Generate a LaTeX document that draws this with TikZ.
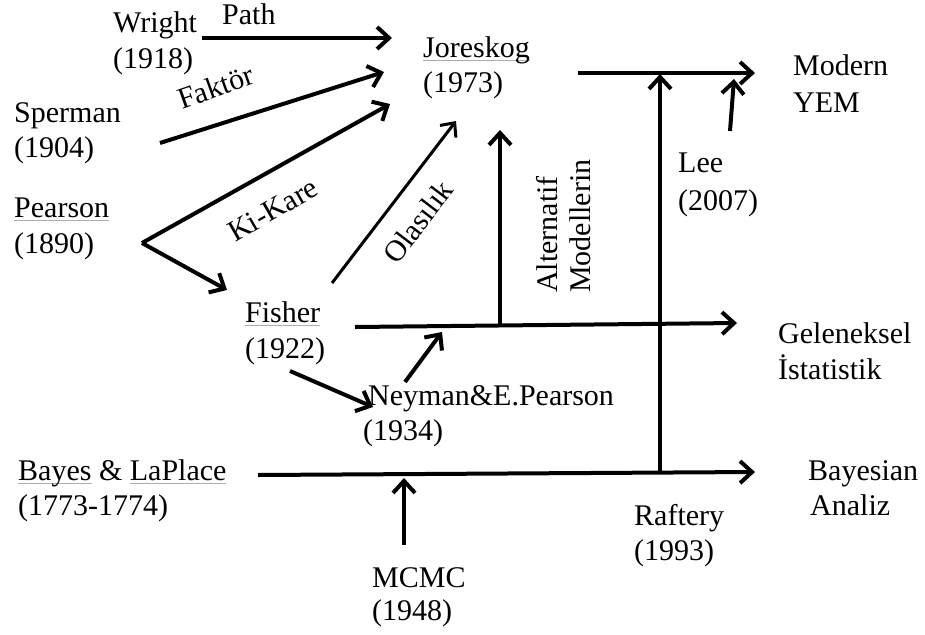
\documentclass[tikz,border=0pt]{standalone}
\usepackage{fontspec}
\setmainfont{Liberation Serif}
\usetikzlibrary{arrows.meta}
\newcommand\myul[1]{\setbox0\hbox{#1}\rlap{\textcolor{gray!65}{\rule[-4pt]{\wd0}{1.2pt}}}\box0\relax}
\begin{document}
\begin{tikzpicture}[x=1pt,y=-1pt,
  lbl/.style={anchor=base west, inner sep=0pt, font=\fontsize{30}{35}\selectfont},
  arr/.style={line width=4pt, -{Straight Barb[length=12pt,width=22pt]}},
  thinarr/.style={line width=3pt, -{Straight Barb[length=11pt,width=20pt]}}]
\path[use as bounding box, fill=white] (0,0) rectangle (925,634);

% labels
\node[lbl] (wright) at (113,33) {Wright};
\node[lbl] (wrightyr) at (113,68) {(1918)};
\node[lbl] (path) at (222,25) {Path};
\node[lbl] (jor) at (423,57) {\myul{Joreskog}};
\node[lbl] (joryr) at (423,92) {(1973)};
\node[lbl] (sper) at (14,122) {Sperman};
\node[lbl] (speryr) at (14,157) {(1904)};
\node[lbl] (pear) at (14,217) {\myul{Pearson}};
\node[lbl] (pearyr) at (14,253) {(1890)};
\node[lbl] (fish) at (245,322) {\myul{Fisher}};
\node[lbl] (fishyr) at (245,358) {(1922)};
\node[lbl] (ney) at (368,405) {Neyman\&E.Pearson};
\node[lbl] (neyyr) at (363,440) {(1934)};
\node[lbl] (bayes) at (18,480) {\myul{Bayes} \& \myul{LaPlace}};
\node[lbl] (bayesyr) at (18,515) {(1773-1774)};
\node[lbl] (mcmc) at (372,587) {MCMC};
\node[lbl] (mcmcyr) at (372,620) {(1948)};
\node[lbl] (gel) at (778,343) {Geleneksel};
\node[lbl] (ist) at (778,379) {İstatistik};
\node[lbl] (bay) at (808,480) {Bayesian};
\node[lbl] (anal) at (810,515) {Analiz};
\node[lbl] (raf) at (634,525) {Raftery};
\node[lbl] (rafyr) at (634,560) {(1993)};
\node[lbl] (mod) at (793,75) {Modern};
\node[lbl] (yem) at (793,112) {YEM};
\node[lbl] (lee) at (678,172) {Lee};
\node[lbl] (leeyr) at (678,210) {(2007)};
\node[lbl, rotate=19.7] (fak) at (182,110) {Faktör};
\node[lbl, rotate=30] (ki) at (235,243) {Ki-Kare};
\node[lbl, rotate=52.6] (ola) at (397,266) {Olasılık};
\node[lbl, rotate=90] (alt) at (557,293) {Alternatif};
\node[lbl, rotate=90] (modl) at (590,293) {Modellerin};

% connector end points
\coordinate (pathS) at (202,38);  \coordinate (pathE) at (392,38);
\coordinate (fakS) at (160,143);  \coordinate (fakE) at (384,72);
\coordinate (pS) at (142,243);    \coordinate (kiE) at (390,104);
\coordinate (fiE) at (227,290);
\coordinate (olS) at (332,283);   \coordinate (olE) at (456,121);
\coordinate (fhS) at (355,327);   \coordinate (fhE) at (737,323);
\coordinate (altS) at (500,326);  \coordinate (altE) at (500,130);
\coordinate (fnS) at (290,371);   \coordinate (fnE) at (373,407);
\coordinate (nuS) at (405,382);   \coordinate (nuE) at (442,332);
\coordinate (bhS) at (258,475);   \coordinate (bhE) at (755,472);
\coordinate (mcS) at (404,545);   \coordinate (mcE) at (404,478);
\coordinate (rfS) at (660,473);   \coordinate (rfE) at (660,74);
\coordinate (jmS) at (578,73);    \coordinate (jmE) at (755,73);
\coordinate (leS) at (730,131);   \coordinate (leE) at (734,79);

% connectors
\draw[arr] (pathS) -- (pathE);
\draw[arr] (fakS) -- (fakE);
\draw[arr] (pS) -- (kiE);
\draw[arr] (pS) -- (fiE);
\draw[thinarr] (olS) -- (olE);
\draw[arr] (fhS) -- (fhE);
\draw[arr] (altS) -- (altE);
\draw[arr] (fnS) -- (fnE);
\draw[arr] (nuS) -- (nuE);
\draw[arr] (bhS) -- (bhE);
\draw[arr] (mcS) -- (mcE);
\draw[arr] (rfS) -- (rfE);
\draw[arr] (jmS) -- (jmE);
\draw[arr] (leS) -- (leE);
\end{tikzpicture}
\end{document}
